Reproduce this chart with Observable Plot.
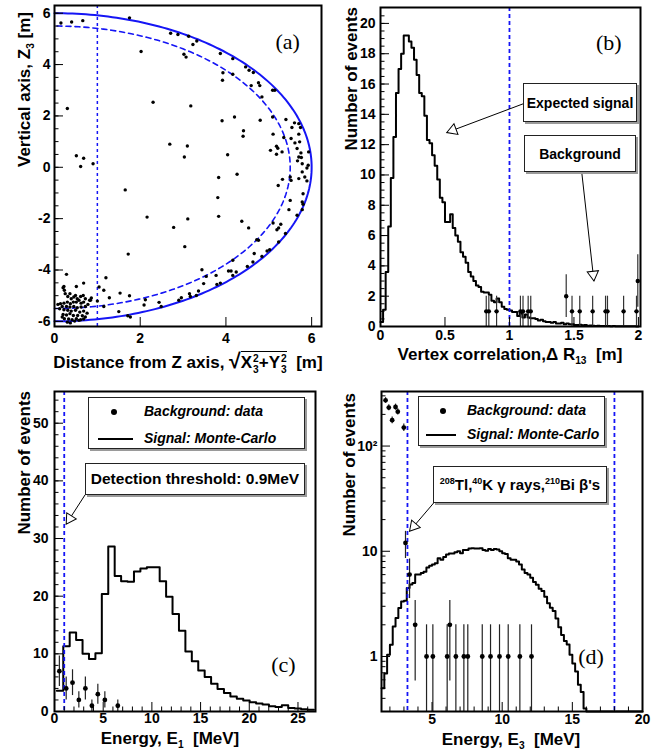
<!DOCTYPE html>
<html><head><meta charset="utf-8">
<script src="https://cdn.jsdelivr.net/npm/d3@7"></script>
<script src="https://cdn.jsdelivr.net/npm/@observablehq/plot@0.6"></script>
<style>
body{margin:0;background:#fff;}
#root{position:relative;width:667px;height:756px;font-family:"Liberation Sans",Arial,Helvetica,sans-serif;color:#000;}
.panel{position:absolute;}
.xlab{position:absolute;font-weight:bold;white-space:nowrap;text-align:center;font-size:17px;line-height:17px;}
.ylab{position:absolute;font-weight:bold;white-space:nowrap;transform:rotate(-90deg);transform-origin:0 0;text-align:right;font-size:17px;line-height:18px;width:300px;}
.box{position:absolute;border:1px solid #222;box-shadow:2px 2px 0 #9a9a9a;background:#fff;box-sizing:border-box;}
.cen{display:flex;align-items:center;justify-content:center;font-weight:bold;font-size:15px;white-space:nowrap;}
.leg{position:absolute;font-weight:bold;font-style:italic;font-size:14px;line-height:18px;white-space:nowrap;}
.ss{display:inline-flex;flex-direction:column;font-size:60%;line-height:1;vertical-align:0.55em;margin-left:1px;}
.ol{border-top:1.5px solid #000;padding-top:1px;}
sub{font-size:60%;}
sup{font-size:60%;}
</style></head><body><div id="root"></div>
<script>
// ---------------- DATA ----------------
// (a) event vertices: [distance from Z axis (m), Z3 (m)]
const vesselRadii = [6.0, 5.5];      // detector boundary (solid) and fiducial boundary (dashed)
const fiducialCutR = 1.0;            // vertical dashed cut
const eventsA = [
 [0.15,5.62],[0.40,5.66],[0.66,5.71],[1.75,5.82],[2.71,5.22],[2.88,5.17],[2.02,4.51],[3.02,4.40],[3.07,4.29],[0.30,2.29],
 [2.30,2.53],[2.69,0.90],[3.10,0.83],[0.51,0.45],[0.68,0.35],[0.61,0.03],[0.90,0.14],[3.03,0.40],[1.65,-0.88],[2.16,-1.94],
 [3.11,-2.01],[2.78,-2.34],[3.04,-3.09],[1.72,-3.38],[0.28,-4.17],[1.20,-4.30],[0.68,-4.51],[0.22,-4.64],[0.51,-4.64],[1.04,-4.66],
 [1.15,-4.79],[1.53,-4.90],[1.75,-5.00],[1.28,-5.08],[0.84,-5.18],[1.00,-5.21],[2.12,-5.16],[2.09,-5.36],[2.44,-5.26],[2.49,-5.42],
 [2.90,-5.18],[2.96,-5.08],[1.15,-5.42],[1.50,-5.62],[1.71,-5.78],[1.77,-5.83],
 [0.20,-4.69],[0.23,-4.79],[0.25,-4.92],[0.31,-5.03],[0.36,-4.92],[0.39,-5.12],[0.45,-5.05],[0.49,-4.99],[0.53,-5.12],[0.61,-5.03],
 [0.67,-4.99],[0.72,-5.12],[0.68,-5.25],[0.62,-5.29],[0.57,-5.18],[0.51,-5.25],[0.44,-5.25],[0.37,-5.31],[0.30,-5.25],[0.22,-5.29],
 [0.14,-5.31],[0.08,-5.34],[0.18,-5.42],[0.28,-5.42],[0.36,-5.44],[0.45,-5.42],[0.53,-5.47],[0.62,-5.44],[0.72,-5.42],[0.78,-5.34],
 [0.22,-5.55],[0.31,-5.57],[0.39,-5.60],[0.49,-5.57],[0.59,-5.64],[0.68,-5.60],[0.76,-5.68],[0.20,-5.73],[0.28,-5.75],[0.36,-5.70],
 [0.44,-5.77],[0.54,-5.77],[0.65,-5.78],[0.72,-5.83],[0.23,-5.90],[0.33,-5.91],[0.41,-5.94],[0.51,-5.90],[0.61,-5.94],[0.68,-5.91],
 [0.30,-6.03],[0.37,-6.06],[0.47,-5.99],[0.57,-5.96],[0.18,-5.83],[0.12,-5.51],[0.82,-5.18],[0.86,-5.09],
 [3.13,5.10],[3.32,4.92],[3.23,4.78],[3.87,4.43],[4.16,4.23],[4.46,3.91],[4.54,3.78],[4.64,3.69],[3.93,3.68],[3.92,3.39],
 [4.16,3.62],[4.76,3.29],[4.59,3.18],[4.79,3.18],[5.09,3.00],[5.14,3.00],[4.84,2.74],[3.18,2.39],[3.91,1.81],[4.20,1.96],
 [4.80,1.83],[5.09,1.96],[5.40,1.86],[5.60,1.73],[5.70,1.70],[5.54,1.55],[5.74,1.55],[4.41,1.42],[4.40,1.21],[5.10,1.29],
 [5.35,1.16],[5.52,1.12],[5.70,1.29],[5.61,0.95],[5.72,0.99],[5.18,0.82],[5.21,0.74],[5.04,0.66],[5.31,0.60],[5.18,0.51],
 [5.66,0.73],[5.75,0.56],[5.70,0.40],[5.76,0.38],[5.67,0.25],[5.78,0.14],[5.93,0.60],[4.04,0.49],[5.92,0.08],[5.89,-0.03],
 [5.78,-0.18],[5.84,-0.38],[5.70,-0.44],[5.89,-0.53],[5.50,-0.38],[5.52,-0.51],[5.32,-0.47],[4.26,-0.27],[3.83,-0.40],[5.22,-0.71],
 [5.80,-1.03],[3.81,-1.18],[5.50,-1.29],[5.78,-1.35],[5.80,-1.44],[5.47,-1.65],[5.78,-1.65],[5.66,-1.87],[3.83,-1.91],[4.37,-2.10],
 [5.28,-2.22],[5.23,-2.36],[5.19,-2.43],[5.10,-2.17],[4.53,-2.36],[5.39,-2.58],[4.72,-2.82],[4.76,-2.84],[5.23,-2.91],[5.02,-3.21],
 [4.96,-3.26],[4.66,-3.36],[4.84,-3.47],[4.16,-3.62],[4.63,-3.69],[4.50,-3.86],[3.44,-3.99],[4.12,-4.04],[4.06,-4.04],[4.16,-4.21],
 [4.24,-4.08],[3.77,-4.21],[3.54,-4.25],[3.48,-4.53],[3.79,-4.56],[3.87,-4.51],[3.36,-4.82],[3.17,-5.03],[3.31,-4.99],[3.15,-4.92]
];

// (b) vertex correlation ΔR13
const dRStart = 0, dRBinWidth = 0.02;
const signalDR = [0.3,1.1,3.6,6.6,9.8,12.5,15.4,17.0,18.0,19.2,
 19.2,18.8,18.4,17.6,16.6,15.4,15.2,13.9,12.3,12.1,
 11.3,10.6,9.7,8.5,8.2,6.9,6.9,7.4,6.5,6.0,
 5.6,4.9,4.6,4.2,3.6,3.3,3.0,2.7,2.6,2.3,
 2.25,2.25,2.1,1.7,1.6,1.85,1.6,1.3,1.15,1.1,
 1.05,0.95,0.95,0.7,0.85,0.6,0.8,0.6,0.55,0.55,
 0.5,0.4,0.45,0.35,0.3,0.3,0.25,0.3,0.2,0.2,
 0.25,0.15,0.2,0.15,0.15,0.1,0.1,0.12,0.08,0.1,
 0.05,0.06,0.05,0.04,0.05,0.03,0.04,0.03,0.03,0.02,
 0.03,0.02,0.02,0.01,0.02,0.01,0.01,0.01,0.01,0.0];
const bgDRx = [0.82,0.84,0.90,1.085,1.105,1.145,1.165,1.44,1.485,1.545,1.645,1.745,1.76,1.885,1.985,1.995];
const bgDRn = [1,1,1,1,1,1,1,2,1,1,1,1,1,1,1,3];
const dRCut = 1.0;

// (c) energy E1
const e1Start = 0.24, e1BinWidth = 0.66;
const signalE1 = [3.6,11.3,13.7,12.4,10.0,9.1,10.1,20.4,28.6,23.5,
 22.6,22.5,24.3,24.8,25.0,25.0,22.6,19.9,16.9,14.0,
 10.4,8.7,7.1,6.0,4.8,3.9,3.2,2.6,2.2,1.9,
 1.6,1.4,1.2,0.9,0.8,1.1,0.6,0.5,0.4,0.3];
const bgE1x = [0.5,1.2,1.85,2.5,3.17,3.84,4.45,5.17,6.5];
const bgE1n = [7,4,5,2,4,1,3,2,1];
const e1Threshold = 1.0;

// (d) energy E3 (log scale)
const e3Start = 1.4, e3BinWidth = 0.2;
const signalE3 = [0.50,0.69,1.04,1.29,1.93,2.32,2.89,3.34,3.39,4.48,
 4.82,5.0,6.0,6.0,6.2,6.4,7.0,7.3,7.5,7.7,
 8.6,8.3,8.8,9.3,9.5,9.5,9.8,10.0,9.6,10.3,
 10.3,10.6,10.7,10.6,10.6,10.7,10.3,10.1,10.5,10.3,
 10.5,10.4,10.0,9.6,9.4,8.6,8.3,8.3,8.0,7.5,
 6.7,6.2,6.0,5.6,5.1,4.8,4.4,4.2,3.7,3.2,
 2.9,2.7,2.3,1.9,1.6,1.4,1.3,1.04,0.86,0.72,
 0.54,0.46,0.32,0,0,0,0,0,0,0,
 0,0,0,0,0,0,0,0,0,0,0,0,0];
const bgE3x = [1.69,1.92,2.16,2.40,2.56,2.99,3.11,3.40,3.80,4.61,5.06,6.08,6.27,6.70,7.27,7.55,8.58,9.17,9.81,10.43,11.26,12.09];
const bgE3n = [272,232,176,235,212,150,12,6,2,1,1,1,2,1,1,1,1,1,1,1,1,1];
const e3Window = [3.25, 18.0];

// tick values
const ticksA_x = [0,2,4,6], ticksA_y = [-6,-4,-2,0,2,4,6];
const ticksB_x = [0,0.5,1,1.5,2], ticksB_y = [0,2,4,6,8,10,12,14,16,18,20];
const ticksC_x = [0,5,10,15,20,25], ticksC_y = [0,10,20,30,40,50];
const ticksD_x = [5,10,15,20], ticksD_y = [1,10,100];

// annotation arrows (tail -> tip, data coords)
const arrowsB = [{x1:1.108,y1:14.7,x2:0.514,y2:12.8},{x1:1.561,y1:10.13,x2:1.655,y2:3.0}];
const arrowsC = [{x1:3.15,y1:37.6,x2:1.2,y2:32.5}];
const arrowsD = [{x1:5.13,y1:28.9,x2:3.4,y2:15.5}];

// ---------------- HELPERS ----------------
const FONT = '"Liberation Sans", Arial, Helvetica, sans-serif';
const SERIF = '"Liberation Serif", "Times New Roman", serif';
const BLUE = "#1515f5";
const root = document.getElementById("root");

function steps(start, w, vals) {
  const pts = vals.map((v, i) => ({x: start + i * w, y: v}));
  pts.push({x: start + vals.length * w, y: vals[vals.length - 1]});
  return pts;
}
function innerTicks({xDom, yDom, w, h, ylog = false, xMaj = [], xMin = [], yMaj = [], yMin = [], L = 9, l = 4.5}) {
  const yAt = px => ylog ? yDom[0] * Math.pow(yDom[1] / yDom[0], px / h) : yDom[0] + (yDom[1] - yDom[0]) * px / h;
  const xAt = px => xDom[0] + (xDom[1] - xDom[0]) * px / w;
  const s = {stroke: "#000", strokeWidth: 1};
  return [
    Plot.ruleX(xMaj, {x: d => d, y1: () => yDom[0], y2: () => yAt(L), ...s}),
    Plot.ruleX(xMin, {x: d => d, y1: () => yDom[0], y2: () => yAt(l), ...s}),
    Plot.ruleY(yMaj, {y: d => d, x1: () => xDom[0], x2: () => xAt(L), ...s}),
    Plot.ruleY(yMin, {y: d => d, x1: () => xDom[0], x2: () => xAt(l), ...s})
  ];
}
function arrowMarks(arrows, xs, ys) {
  const marks = [Plot.link(arrows, {x1: "x1", y1: "y1", x2: "x2", y2: "y2", stroke: "#000", strokeWidth: 1})];
  const r = 4.2, size = Math.PI * r * r, yy = Math.sqrt(size / (Math.sqrt(3) * 3));
  for (const a of arrows) {
    const px1 = xs(a.x1), py1 = ys(a.y1), px2 = xs(a.x2), py2 = ys(a.y2);
    const len = Math.hypot(px2 - px1, py2 - py1), ux = (px2 - px1) / len, uy = (py2 - py1) / len;
    const c = {x: xs.invert(px2 - ux * 2 * yy), y: ys.invert(py2 - uy * 2 * yy)};
    marks.push(Plot.dot([c], {x: "x", y: "y", symbol: "triangle", r, rotate: Math.atan2(ux, -uy) * 180 / Math.PI, fill: "white", stroke: "#000", strokeWidth: 1}));
  }
  return marks;
}
function mount(svg, left, top) {
  const d = document.createElement("div"); d.className = "panel";
  d.style.left = left + "px"; d.style.top = top + "px";
  d.appendChild(svg); root.appendChild(d);
}
function el(cls, html, css) {
  const d = document.createElement("div"); d.className = cls; d.innerHTML = html;
  d.style.cssText += css; root.appendChild(d); return d;
}
const baseStyle = {fontFamily: FONT, fontSize: "14px", fontWeight: "bold", background: "transparent", overflow: "visible"};
const fmt = d => String(d);
const panelLabel = (t, x, y) => Plot.text([{t, x, y}], {x: "x", y: "y", text: "t", fontFamily: SERIF, fontSize: 22, fontWeight: "normal"});

// ---------------- PANEL (a) ----------------
{
  const W = 334, H = 378, m = {l: 54, r: 13, t: 5, b: 52};
  const xDom = [0, 6.23], yDom = [-6.2, 6.3];
  const angles = d3.range(-90, 91, 1);
  const vessel = vesselRadii.map(R => angles.map(a => ({x: R * Math.cos(a * Math.PI / 180), y: R * Math.sin(a * Math.PI / 180)})));
  const svg = Plot.plot({
    width: W, height: H, marginLeft: m.l, marginRight: m.r, marginTop: m.t, marginBottom: m.b,
    x: {domain: xDom, axis: null}, y: {domain: yDom, axis: null}, style: baseStyle,
    marks: [
      Plot.line(vessel[0], {x: "x", y: "y", stroke: BLUE, strokeWidth: 2}),
      Plot.line(vessel[1], {x: "x", y: "y", stroke: BLUE, strokeWidth: 1.6, strokeDasharray: "5,4"}),
      Plot.ruleX([fiducialCutR], {x: d => d, stroke: BLUE, strokeWidth: 1.5, strokeDasharray: "3,3"}),
      Plot.dot(eventsA, {x: d => d[0], y: d => d[1], r: 1.7, fill: "#000"}),
      ...innerTicks({xDom, yDom, w: W - m.l - m.r, h: H - m.t - m.b, xMaj: ticksA_x, yMaj: ticksA_y, yMin: d3.range(-6, 6.01, 0.5)}),
      Plot.axisX(ticksA_x, {tickSize: 0, tickPadding: 7, tickFormat: fmt, label: null}),
      Plot.axisY(ticksA_y, {tickSize: 0, tickPadding: 4, tickFormat: fmt, label: null}),
      panelLabel("(a)", 5.44, 4.87),
      Plot.frame({stroke: "#000", strokeWidth: 2})
    ]
  });
  mount(svg, 0, 0);
}

// ---------------- PANEL (b) ----------------
{
  const W = 333, H = 378, m = {l: 46, r: 27, t: 7, b: 52};
  const xDom = [0, 2.016], yDom = [0, 21.05];
  const xs = d3.scaleLinear(xDom, [m.l, W - m.r]), ys = d3.scaleLinear(yDom, [H - m.b, m.t]);
  const bg = bgDRx.map((x, i) => ({x, n: bgDRn[i]}));
  const svg = Plot.plot({
    width: W, height: H, marginLeft: m.l, marginRight: m.r, marginTop: m.t, marginBottom: m.b,
    x: {domain: xDom, axis: null}, y: {domain: yDom, axis: null}, style: baseStyle,
    marks: [
      Plot.line(steps(dRStart, dRBinWidth, signalDR), {x: "x", y: "y", curve: "step-after", stroke: "#000", strokeWidth: 2}),
      Plot.ruleX([dRCut], {x: d => d, stroke: BLUE, strokeWidth: 1.8, strokeDasharray: "4,3"}),
      Plot.ruleX(bg, {x: "x", y1: d => Math.max(0, d.n - Math.sqrt(d.n)), y2: d => d.n + Math.sqrt(d.n), stroke: "#333", strokeWidth: 1.2}),
      Plot.ruleY(bg, {y: "n", x1: d => d.x - 0.01, x2: d => d.x + 0.01, stroke: "#333", strokeWidth: 1.2}),
      Plot.dot(bg, {x: "x", y: "n", r: 2.2, fill: "#000"}),
      ...innerTicks({xDom, yDom, w: W - m.l - m.r, h: H - m.t - m.b, xMaj: ticksB_x, yMaj: ticksB_y, yMin: d3.range(0, 21, 0.5)}),
      Plot.axisX(ticksB_x, {tickSize: 0, tickPadding: 4, tickFormat: fmt, label: null}),
      Plot.axisY(ticksB_y, {tickSize: 0, tickPadding: 5, tickFormat: fmt, label: null}),
      ...arrowMarks(arrowsB, xs, ys),
      panelLabel("(b)", 1.77, 18.7),
      Plot.frame({stroke: "#000", strokeWidth: 2})
    ]
  });
  mount(svg, 334, 0);
}

// ---------------- PANEL (c) ----------------
{
  const W = 334, H = 378, m = {l: 54, r: 19, t: 13, b: 45};
  const xDom = [0, 26.8], yDom = [0, 55.5];
  const xs = d3.scaleLinear(xDom, [m.l, W - m.r]), ys = d3.scaleLinear(yDom, [H - m.b, m.t]);
  const bg = bgE1x.map((x, i) => ({x, n: bgE1n[i]}));
  const svg = Plot.plot({
    width: W, height: H, marginLeft: m.l, marginRight: m.r, marginTop: m.t, marginBottom: m.b,
    x: {domain: xDom, axis: null}, y: {domain: yDom, axis: null}, style: baseStyle,
    marks: [
      Plot.line(steps(e1Start, e1BinWidth, signalE1), {x: "x", y: "y", curve: "step-after", stroke: "#000", strokeWidth: 2, clip: true}),
      Plot.ruleX([e1Threshold], {x: d => d, stroke: BLUE, strokeWidth: 1.8, strokeDasharray: "4,3"}),
      Plot.ruleX(bg, {x: "x", y1: d => Math.max(0, d.n - Math.sqrt(d.n)), y2: d => d.n + Math.sqrt(d.n), stroke: "#222", strokeWidth: 1.2}),
      Plot.dot(bg, {x: "x", y: "n", r: 2.4, fill: "#000"}),
      ...innerTicks({xDom, yDom, w: W - m.l - m.r, h: H - m.t - m.b, xMaj: ticksC_x, xMin: d3.range(1, 27, 1).filter(v => v % 5), yMaj: ticksC_y, yMin: d3.range(0, 55, 2)}),
      Plot.axisX(ticksC_x, {tickSize: 0, tickPadding: 2, tickFormat: fmt, label: null}),
      Plot.axisY(ticksC_y, {tickSize: 0, tickPadding: 6, tickFormat: fmt, label: null}),
      ...arrowMarks(arrowsC, xs, ys),
      panelLabel("(c)", 23.5, 8.1),
      Plot.frame({stroke: "#000", strokeWidth: 2})
    ]
  });
  mount(svg, 0, 378);
}

// ---------------- PANEL (d) ----------------
{
  const W = 333, H = 378, m = {l: 47, r: 25, t: 13, b: 45};
  const xDom = [1.4, 20], yDom = [0.3, 330];
  const xs = d3.scaleLinear(xDom, [m.l, W - m.r]), ys = d3.scaleLog(yDom, [H - m.b, m.t]);
  const bg = bgE3x.map((x, i) => ({x, n: bgE3n[i]}));
  const yMinor = [0.3,0.4,0.5,0.6,0.7,0.8,0.9,2,3,4,5,6,7,8,9,20,30,40,50,60,70,80,90,200,300];
  const svg = Plot.plot({
    width: W, height: H, marginLeft: m.l, marginRight: m.r, marginTop: m.t, marginBottom: m.b,
    x: {domain: xDom, axis: null}, y: {type: "log", domain: yDom, axis: null}, style: baseStyle,
    marks: [
      Plot.line(steps(e3Start, e3BinWidth, signalE3), {x: "x", y: d => Math.max(d.y, yDom[0]), curve: "step-after", stroke: "#000", strokeWidth: 2}),
      Plot.ruleX(e3Window, {x: d => d, stroke: BLUE, strokeWidth: 1.8, strokeDasharray: "4,3"}),
      Plot.ruleX(bg, {x: "x", y1: d => Math.max(yDom[0], d.n - Math.sqrt(d.n)), y2: d => d.n + Math.sqrt(d.n), stroke: "#222", strokeWidth: 1.2}),
      Plot.dot(bg, {x: "x", y: "n", r: 2.4, fill: "#000"}),
      ...innerTicks({xDom, yDom, ylog: true, w: W - m.l - m.r, h: H - m.t - m.b, xMaj: ticksD_x, xMin: d3.range(2, 20, 1).filter(v => v % 5), yMaj: ticksD_y, yMin: yMinor}),
      Plot.axisX(ticksD_x, {tickSize: 0, tickPadding: 3, tickFormat: fmt, label: null}),
      Plot.axisY(ticksD_y, {tickSize: 0, tickPadding: 4, tickFormat: d => d === 100 ? "10²" : String(d), label: null}),
      ...arrowMarks(arrowsD, xs, ys),
      panelLabel("(d)", 16.33, 1.0),
      Plot.frame({stroke: "#000", strokeWidth: 2})
    ]
  });
  mount(svg, 334, 378);
}

// ---------------- AXIS TITLES ----------------
el("ylab", "Vertical axis, Z<sub>3</sub> [m]", "left:16px;top:312px;");
el("ylab", "Number of events", "left:343px;top:307px;");
el("ylab", "Number of events", "left:16px;top:691px;");
el("ylab", "Number of events", "left:341px;top:693px;");
el("xlab", 'Distance from Z axis, <span style="font-size:125%">√</span><span class="ol">X<span class="ss"><span>2</span><span>3</span></span>+Y<span class="ss"><span>2</span><span>3</span></span></span>&nbsp; [m]', "left:18px;top:353px;width:340px;");
el("xlab", "Vertex correlation,Δ R<sub>13</sub>&nbsp; [m]", "left:340px;top:346px;width:340px;");
el("xlab", "Energy, E<sub>1</sub>&nbsp; [MeV]", "left:0px;top:730px;width:340px;");
el("xlab", "Energy, E<sub>3</sub>&nbsp; [MeV]", "left:341px;top:731px;width:340px;");

// ---------------- ANNOTATION BOXES / LEGENDS ----------------
el("box cen", "Expected signal", "left:523px;top:83px;width:114px;height:39px;font-size:14px;");
el("box cen", "Background", "left:524px;top:135px;width:112px;height:37px;font-size:14px;");
el("box cen", "Detection threshold: 0.9MeV", "left:85px;top:463px;width:220px;height:32px;font-size:15.5px;");
el("box cen", "<span><sup>208</sup>Tl,<sup>40</sup>K γ rays,<sup>210</sup>Bi β's</span>", "left:433px;top:466px;width:174px;height:37px;");

function legend(left, top, w, h, dot, line, tx, r1, r2) {
  const b = el("box", "", `left:${left}px;top:${top}px;width:${w}px;height:${h}px;`);
  b.innerHTML =
    `<div style="position:absolute;left:${dot[0]-3}px;top:${dot[1]-3}px;width:6px;height:6px;border-radius:50%;background:#000"></div>` +
    `<div class="leg" style="left:${tx}px;top:${r1}px">Background: data</div>` +
    `<div style="position:absolute;left:${line[0]}px;top:${line[2]-1}px;width:${line[1]}px;border-top:2px solid #000"></div>` +
    `<div class="leg" style="left:${tx}px;top:${r2}px">Signal: Monte-Carlo</div>`;
}
legend(88, 397, 217, 52, [25, 14], [9, 35, 41], 55, 4, 31);
legend(418, 396, 187, 50, [24, 14], [7, 30, 38], 48, 4, 28);
</script></body></html>
